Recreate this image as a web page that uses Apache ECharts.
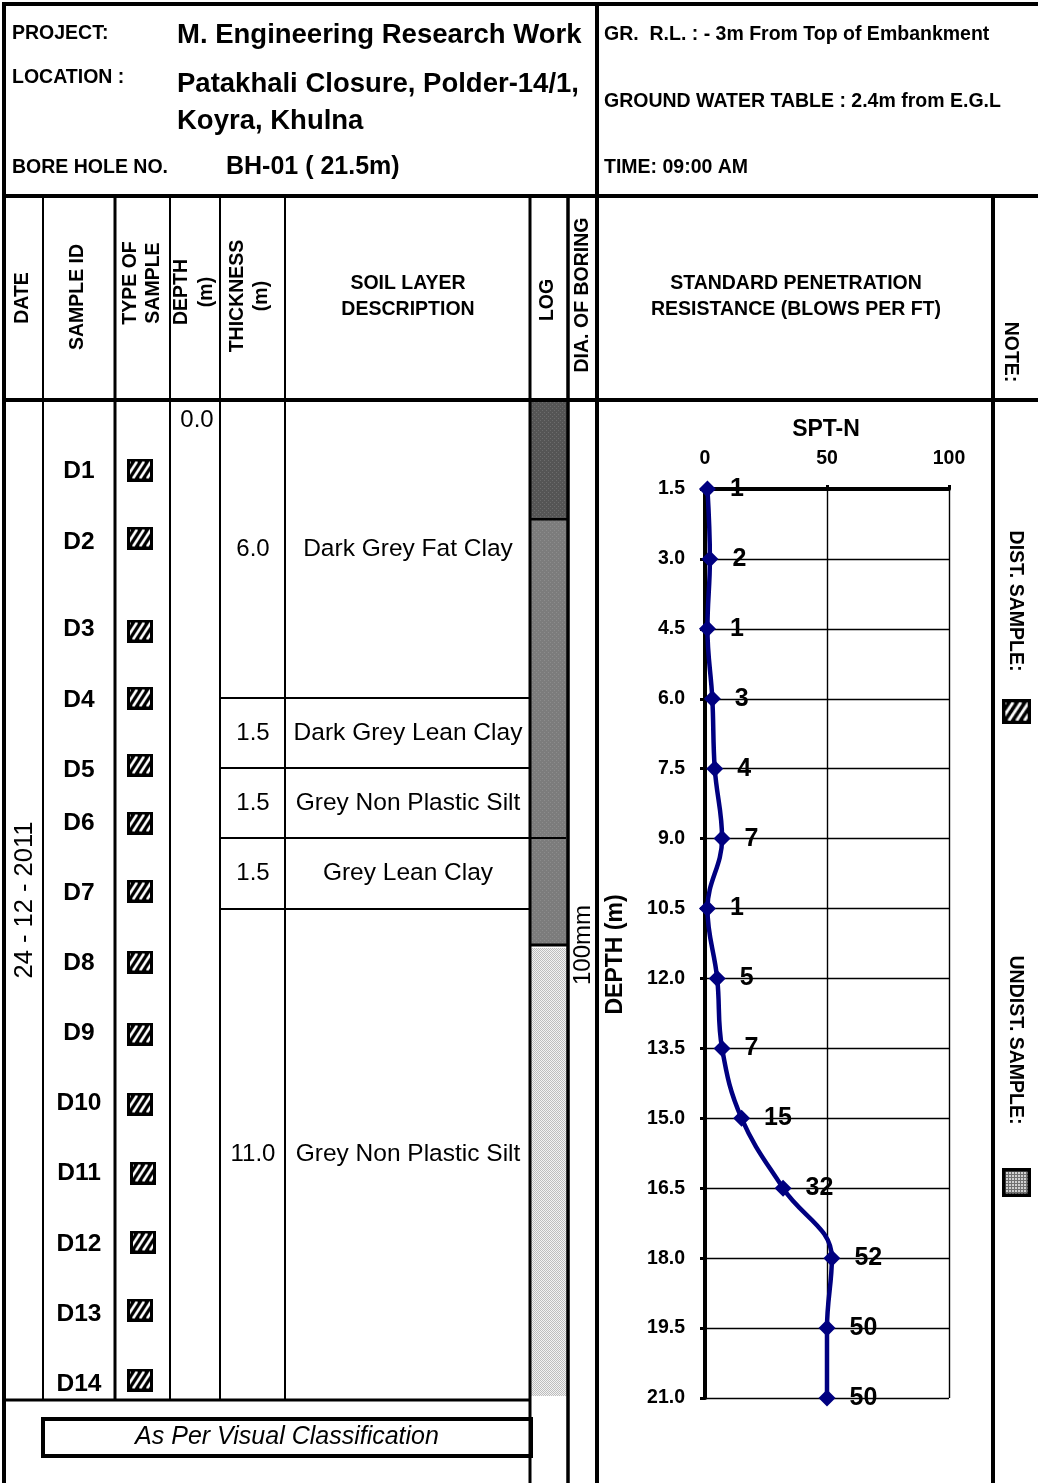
<!DOCTYPE html>
<html>
<head>
<meta charset="utf-8">
<script src="https://cdn.jsdelivr.net/npm/echarts@6/dist/echarts.min.js"></script>
<style>
  html, body { margin: 0; padding: 0; background: #fff; }
  #main { width: 1038px; height: 1483px; }
</style>
</head>
<body>
<div id="main"></div>
<script>
// ---------------- bore log data ----------------
const projectName = 'M. Engineering Research Work';
const locationLines = ['Patakhali Closure, Polder-14/1,', 'Koyra, Khulna'];
const boreHole = 'BH-01 ( 21.5m)';
const reducedLevel = 'GR.  R.L. : - 3m From Top of Embankment';
const waterTableText = 'GROUND WATER TABLE : 2.4m from E.G.L';
const boringTime = 'TIME: 09:00 AM';
const boringDate = '24 - 12 - 2011';
const boringDia = '100mm';
const waterTable = 2.4;

// SPT record: depth of test (m) and blow count N
const sptDepths = [1.5, 3.0, 4.5, 6.0, 7.5, 9.0, 10.5, 12.0, 13.5, 15.0, 16.5, 18.0, 19.5, 21.0];
const sptN = [1, 2, 1, 3, 4, 7, 1, 5, 7, 15, 32, 52, 50, 50];
const sptXTicks = [0, 50, 100];

// samples (all disturbed)
const sampleIds = ['D1', 'D2', 'D3', 'D4', 'D5', 'D6', 'D7', 'D8', 'D9', 'D10', 'D11', 'D12', 'D13', 'D14'];

// soil strata
const layerThickness = [6.0, 1.5, 1.5, 1.5, 11.0];
const layerNames = ['Dark Grey Fat Clay', 'Dark Grey Lean Clay', 'Grey Non Plastic Silt', 'Grey Lean Clay', 'Grey Non Plastic Silt'];
const topDepth = 0.0;

// ---------------- sheet layout ----------------
const FONT = '"Liberation Sans", Arial, Helvetica, sans-serif';
const SHEET_TOP = 400;                                // first row of the log body
const layerRowBottom = [698, 768, 838, 909, 1400];    // merged spreadsheet rows per stratum
const sampleRowY = [471, 542, 629, 700, 770, 823, 893, 963, 1033, 1103, 1173, 1244, 1314, 1384];
const iconRowY = [470, 538, 631, 698, 765, 823, 891, 962, 1034, 1104, 1173, 1242, 1310, 1380];

function makeCanvas(w, h, draw) {
  const c = document.createElement('canvas');
  c.width = w; c.height = h;
  draw(c.getContext('2d'), w, h);
  return c;
}

// disturbed-sample symbol: white diagonal hatch on black
const hatchIcon = makeCanvas(26, 23, (g, w, h) => {
  g.fillStyle = '#000'; g.fillRect(0, 0, w, h);
  g.strokeStyle = '#fff'; g.lineWidth = 2.6;
  for (let k = -8; k < w + 6; k += 7) {
    g.beginPath(); g.moveTo(k, h - 3); g.lineTo(k + 11, 3); g.stroke();
  }
  g.strokeStyle = '#000'; g.lineWidth = 3; g.strokeRect(1.5, 1.5, w - 3, h - 3);
});

// undisturbed-sample symbol: fine grey grid in black frame
const gridIcon = makeCanvas(29, 29, (g, w, h) => {
  g.fillStyle = '#d0d0d0'; g.fillRect(0, 0, w, h);
  g.fillStyle = '#707070';
  for (let k = 3; k < w; k += 3) { g.fillRect(k, 0, 1, h); g.fillRect(0, k, w, 1); }
  g.strokeStyle = '#000'; g.lineWidth = 3.5; g.strokeRect(1.75, 1.75, w - 3.5, h - 3.5);
});

function texture(base, dot) {
  return makeCanvas(4, 4, (g) => {
    g.fillStyle = base; g.fillRect(0, 0, 4, 4);
    g.fillStyle = dot; g.fillRect(0, 0, 1, 1); g.fillRect(2, 2, 1, 1);
  });
}
const darkFill = { image: texture('#555555', '#6c6c6c'), repeat: 'repeat' };
const midFill = { image: texture('#7c7c7c', '#8c8c8c'), repeat: 'repeat' };
const lightFill = { image: makeCanvas(2, 2, (g) => {
  g.fillStyle = '#f2f2f2'; g.fillRect(0, 0, 2, 2);
  g.fillStyle = '#bdbdbd'; g.fillRect(0, 0, 1, 1); g.fillRect(1, 1, 1, 1);
}), repeat: 'repeat' };

// ---------------- drawing helpers ----------------
function txt(text, x, y, o = {}) {
  const style = {
    text: text, fill: '#000',
    font: (o.italic ? 'italic ' : '') + (o.bold === false ? '' : 'bold ') + (o.size || 19.5) + 'px ' + FONT,
    align: o.align || 'center', verticalAlign: 'middle'
  };
  if (o.lh) style.lineHeight = o.lh;
  return { type: 'text', x: x, y: y, rotation: o.rot || 0, silent: true, z: 20, style: style };
}
function ln(x1, y1, x2, y2, w) {
  return { type: 'line', silent: true, z: 15, shape: { x1, y1, x2, y2 }, style: { stroke: '#000', lineWidth: w } };
}
function box(x, y, w, h, style, z) {
  return { type: 'rect', silent: true, z: z || 5, shape: { x: x, y: y, width: w, height: h }, style: style };
}
const UP = Math.PI / 2, DOWN = -Math.PI / 2;

const g = [];

// header block
g.push(txt('PROJECT:', 12, 34, { align: 'left' }));
g.push(txt(projectName, 177, 35, { align: 'left', size: 27.5 }));
g.push(txt('LOCATION :', 12, 78, { align: 'left' }));
g.push(txt(locationLines[0], 177, 84, { align: 'left', size: 27.5 }));
g.push(txt(locationLines[1], 177, 121, { align: 'left', size: 27.5 }));
g.push(txt('BORE HOLE NO.', 12, 168, { align: 'left' }));
g.push(txt(boreHole, 226, 167, { align: 'left', size: 25 }));
g.push(txt(reducedLevel, 604, 35, { align: 'left' }));
g.push(txt(waterTableText, 604, 102, { align: 'left' }));
g.push(txt(boringTime, 604, 168, { align: 'left' }));

// column captions
g.push(txt('DATE', 23, 298, { rot: UP }));
g.push(txt('SAMPLE ID', 78, 297, { rot: UP }));
g.push(txt('TYPE OF\nSAMPLE', 142, 283, { rot: UP, lh: 23 }));
g.push(txt('DEPTH\n(m)', 194, 292, { rot: UP, lh: 25 }));
g.push(txt('THICKNESS\n(m)', 250, 296, { rot: UP, lh: 24 }));
g.push(txt('SOIL LAYER\nDESCRIPTION', 408, 297, { lh: 26 }));
g.push(txt('LOG', 548, 300, { rot: UP }));
g.push(txt('DIA. OF BORING', 583, 295, { rot: UP }));
g.push(txt('STANDARD PENETRATION\nRESISTANCE (BLOWS PER FT)', 796, 297, { lh: 26 }));
g.push(txt('NOTE:', 1010, 352, { rot: DOWN }));

// log column fills
const logX = 531, logW = 36;
const wtY = SHEET_TOP + waterTable / layerThickness[0] * (layerRowBottom[0] - SHEET_TOP);
g.push(box(logX, SHEET_TOP, logW, wtY - SHEET_TOP, { fill: darkFill }));
g.push(box(logX, wtY, logW, 945 - wtY, { fill: midFill }));
g.push(box(logX, 948, logW, 1396 - 948, { fill: lightFill }));
g.push(ln(logX, wtY, logX + logW, wtY, 2.5));
g.push(ln(logX, 945, logX + logW, 945, 3));

// strata rows
let yTop = SHEET_TOP;
layerThickness.forEach((t, i) => {
  const yBot = layerRowBottom[i];
  const yMid = (yTop + yBot) / 2;
  g.push(txt(t.toFixed(1), 253, yMid, { bold: false, size: 24 }));
  g.push(txt(layerNames[i], 408, yMid, { bold: false, size: 24.5 }));
  if (i < layerThickness.length - 1) g.push(ln(220, yBot, i === 2 ? 566 : 530, yBot, 2));
  yTop = yBot;
});
g.push(txt(topDepth.toFixed(1), 197, 420, { bold: false, size: 24 }));

// samples
sampleIds.forEach((id, i) => {
  g.push(txt(id, 79, sampleRowY[i], { size: 24.5 }));
  g.push({ type: 'image', silent: true, z: 20, style: { image: hatchIcon, x: 127 + (i === 10 || i === 11 ? 3 : 0), y: iconRowY[i] - 11.5, width: 26, height: 23 } });
});

g.push(txt(boringDate, 25, 900, { rot: UP, bold: false, size: 25.5 }));
g.push(txt(boringDia, 583, 945, { rot: UP, bold: false, size: 24 }));

// notes / legend
g.push(txt('DIST. SAMPLE:', 1015, 601, { rot: DOWN }));
g.push({ type: 'image', silent: true, z: 20, style: { image: hatchIcon, x: 1002, y: 699, width: 29, height: 25 } });
g.push(txt('UNDIST. SAMPLE:', 1015, 1040, { rot: DOWN }));
g.push({ type: 'image', silent: true, z: 20, style: { image: gridIcon, x: 1002, y: 1168, width: 29, height: 29 } });

// frame and rulings
g.push(ln(2, 4, 1038, 4, 4));
g.push(ln(4, 2, 4, 1483, 4));
g.push(ln(2, 196, 1038, 196, 4));
g.push(ln(2, 400, 1038, 400, 4));
g.push(ln(597, 2, 597, 1483, 4));
g.push(ln(993, 196, 993, 1483, 4));
[[43, 2], [115, 3], [170, 2], [220, 2], [285, 2]].forEach(([x, w]) => g.push(ln(x, 196, x, 1401, w)));
g.push(ln(530, 196, 530, 1483, 3));
g.push(ln(568, 196, 568, 1483, 3.5));
g.push(ln(2, 1400, 530, 1400, 3));

// classification note
g.push(box(43, 1419, 488, 37, { fill: 'none', stroke: '#000', lineWidth: 4 }, 15));
g.push(txt('As Per Visual Classification', 287, 1437, { italic: true, bold: false, size: 25 }));

// SPT chart caption
g.push(txt('SPT-N', 826, 430, { size: 23 }));

const axisFont = { color: '#000', fontFamily: FONT, fontWeight: 'bold', fontSize: 19.5 };

const option = {
  animation: false,
  backgroundColor: '#fff',
  graphic: g,
  grid: { left: 705, top: 489, width: 244, height: 909, containLabel: false, outerBoundsMode: 'none' },
  xAxis: {
    type: 'value', position: 'top', min: sptXTicks[0], max: sptXTicks[sptXTicks.length - 1],
    interval: sptXTicks[1] - sptXTicks[0],
    axisLine: { show: true, onZero: false, lineStyle: { color: '#000', width: 4 } },
    axisTick: { show: true, length: 4, lineStyle: { color: '#000', width: 3 } },
    axisLabel: Object.assign({ margin: 20 }, axisFont),
    splitLine: { show: true, lineStyle: { color: '#000', width: 1.4 } }
  },
  yAxis: {
    type: 'value', inverse: true, min: sptDepths[0], max: sptDepths[sptDepths.length - 1],
    interval: sptDepths[1] - sptDepths[0],
    name: 'DEPTH (m)', nameLocation: 'middle', nameGap: 78, nameRotate: 90,
    nameTextStyle: { color: '#000', fontFamily: FONT, fontWeight: 'bold', fontSize: 23, padding: [0, 0, 0, -22] },
    axisLine: { show: true, onZero: false, lineStyle: { color: '#000', width: 4 } },
    axisTick: { show: true, length: 5, lineStyle: { color: '#000', width: 3 } },
    axisLabel: Object.assign({ margin: 20, formatter: v => v.toFixed(1) }, axisFont),
    splitLine: { show: true, lineStyle: { color: '#000', width: 1.4 } }
  },
  series: [{
    type: 'line',
    data: sptDepths.map((d, i) => [sptN[i], d]),
    smooth: 0.4,
    symbol: 'diamond',
    symbolSize: 17,
    lineStyle: { color: '#000080', width: 4.5 },
    itemStyle: { color: '#000080' },
    label: {
      show: true, position: 'right', distance: 14,
      formatter: p => String(p.value[0]),
      color: '#000', fontFamily: FONT, fontWeight: 'bold', fontSize: 25
    },
    z: 3
  }]
};

const chart = echarts.init(document.getElementById('main'));
chart.setOption(option);
</script>
</body>
</html>
